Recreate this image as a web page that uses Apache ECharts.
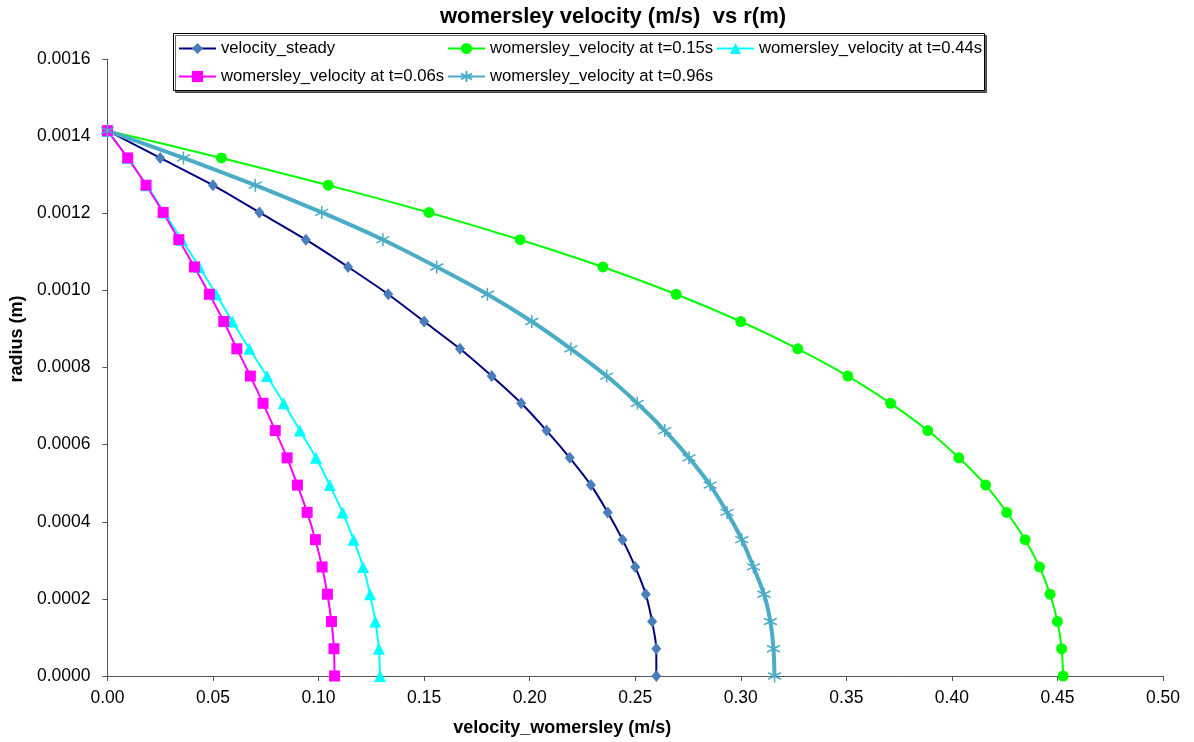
<!DOCTYPE html>
<html>
<head>
<meta charset="utf-8">
<script src="https://cdn.jsdelivr.net/npm/echarts@6/dist/echarts.min.js"></script>
<style>
  html, body { margin: 0; padding: 0; background: #fff; }
  #charts { width: 1194px; height: 742px; }
</style>
</head>
<body>
<div id="charts"></div>
<script>
  // radius (m) of each sample point, wall at the top
  var radius = [0, 0.0000707, 0.0001414, 0.0002121, 0.0002828, 0.0003536, 0.0004243,
    0.000495, 0.0005657, 0.0006364, 0.0007071, 0.0007778, 0.0008485, 0.0009192,
    0.0009899, 0.0010607, 0.0011314, 0.0012021, 0.0012728, 0.0013435, 0.0014142];

  // velocity (m/s) at each radius
  var velSteady = [0.260, 0.260, 0.258, 0.255, 0.250, 0.244, 0.237, 0.229, 0.219, 0.208,
    0.196, 0.182, 0.167, 0.150, 0.133, 0.114, 0.094, 0.072, 0.050, 0.025, 0];
  var velT015 = [0.4527, 0.452, 0.450, 0.4465, 0.4415, 0.4347, 0.426, 0.416, 0.4033, 0.3886,
    0.371, 0.3507, 0.327, 0.300, 0.2694, 0.2347, 0.1955, 0.1523, 0.1046, 0.054, 0];
  var velT044 = [0.1291, 0.1286, 0.1269, 0.1244, 0.1211, 0.1166, 0.1114, 0.1053, 0.0988, 0.0912,
    0.0835, 0.0756, 0.0672, 0.0592, 0.0515, 0.0435, 0.0352, 0.0268, 0.0185, 0.0096, 0];
  var velT006 = [0.1076, 0.1073, 0.1061, 0.1042, 0.1017, 0.0985, 0.0946, 0.090, 0.0851, 0.0795,
    0.0737, 0.0677, 0.0613, 0.0551, 0.0483, 0.0412, 0.0338, 0.0264, 0.0183, 0.0096, 0];
  var velT096 = [0.316, 0.3155, 0.314, 0.311, 0.306, 0.3005, 0.2935, 0.2855, 0.2755, 0.264,
    0.251, 0.2365, 0.2195, 0.201, 0.180, 0.156, 0.1305, 0.1015, 0.070, 0.036, 0];

  var names = ['velocity_steady', 'womersley_velocity at t=0.15s', 'womersley_velocity at t=0.44s',
    'womersley_velocity at t=0.06s', 'womersley_velocity at t=0.96s'];

  var font = 'Arial, "Liberation Sans", sans-serif';
  var star = 'path://M0,-10L0,10M-8.66,-5L8.66,5M-8.66,5L8.66,-5';

  function pairs(v) {
    return v.map(function (x, i) { return [x, radius[i]]; });
  }

  // one legend per entry so the columns line up like the original box
  function legendAt(name, left, top) {
    return {
      data: [name], left: left, top: top, padding: 0,
      itemWidth: 37, itemHeight: 14,
      textStyle: { fontFamily: font, fontSize: 16.7, color: '#000' }
    };
  }

  var myChart = echarts.init(document.getElementById('charts'));
  var option = {
    animation: false,
    backgroundColor: '#fff',
    title: {
      text: 'womersley velocity (m/s)  vs r(m)',
      left: 608, top: 1, textAlign: 'center',
      textStyle: { fontFamily: font, fontSize: 22, fontWeight: 'bold', color: '#000' }
    },
    graphic: [{
      type: 'rect', left: 173, top: 33, z: -1,
      shape: { width: 811, height: 57 },
      style: { fill: '#fff', stroke: '#000', lineWidth: 1,
        shadowColor: 'rgba(0,0,0,0.6)', shadowOffsetX: 2, shadowOffsetY: 2 }
    }],
    legend: [
      legendAt(names[0], 178, 40),
      legendAt(names[1], 447, 40),
      legendAt(names[2], 716, 40),
      legendAt(names[3], 178, 68),
      legendAt(names[4], 447, 68)
    ],
    grid: { left: 107, right: 31, top: 59, bottom: 64 },
    xAxis: {
      type: 'value', min: 0, max: 0.5, interval: 0.05,
      name: 'velocity_womersley (m/s)', nameLocation: 'middle', nameGap: 43,
      nameTextStyle: { fontFamily: font, fontSize: 18, fontWeight: 'bold', color: '#000',
        padding: [0, 146, 0, 0] },
      axisLine: { lineStyle: { color: '#555', width: 1 } },
      axisTick: { show: true, length: 5, lineStyle: { color: '#555' } },
      splitLine: { show: false },
      axisLabel: { fontFamily: font, fontSize: 17.5, color: '#000', margin: 13,
        formatter: function (v) { return v.toFixed(2); } }
    },
    yAxis: {
      type: 'value', min: 0, max: 0.0016, interval: 0.0002,
      name: 'radius (m)', nameLocation: 'middle', nameGap: 80,
      nameTextStyle: { fontFamily: font, fontSize: 18, fontWeight: 'bold', color: '#000',
        padding: [0, 0, 0, 57] },
      axisLine: { show: true, lineStyle: { color: '#555', width: 1 } },
      axisTick: { show: true, length: 5, lineStyle: { color: '#555' } },
      splitLine: { show: false },
      axisLabel: { fontFamily: font, fontSize: 17.5, color: '#000', margin: 17,
        formatter: function (v) { return v.toFixed(4); } }
    },
    series: [{
      name: names[0], type: 'line', smooth: 0.2,
      symbol: 'diamond', symbolSize: [10, 12],
      lineStyle: { color: '#000080', width: 2 },
      itemStyle: { color: '#4a7ebb' },
      data: pairs(velSteady)
    }, {
      name: names[1], type: 'line', smooth: 0.2,
      symbol: 'circle', symbolSize: 11,
      lineStyle: { color: '#00ff00', width: 2 },
      itemStyle: { color: '#00ff00' },
      data: pairs(velT015)
    }, {
      name: names[2], type: 'line', smooth: 0.2,
      symbol: 'triangle', symbolSize: 12,
      lineStyle: { color: '#00ffff', width: 2 },
      itemStyle: { color: '#00ffff' },
      data: pairs(velT044)
    }, {
      name: names[3], type: 'line', smooth: 0.2,
      symbol: 'rect', symbolSize: 11,
      lineStyle: { color: '#ff00ff', width: 2 },
      itemStyle: { color: '#ff00ff' },
      data: pairs(velT006)
    }, {
      name: names[4], type: 'line', smooth: 0.2,
      symbol: star, symbolSize: 13,
      lineStyle: { color: '#4bacc6', width: 4 },
      itemStyle: { color: 'none', borderColor: '#4bacc6', borderWidth: 1.5 },
      data: pairs(velT096)
    }]
  };
  myChart.setOption(option);
</script>
</body>
</html>
